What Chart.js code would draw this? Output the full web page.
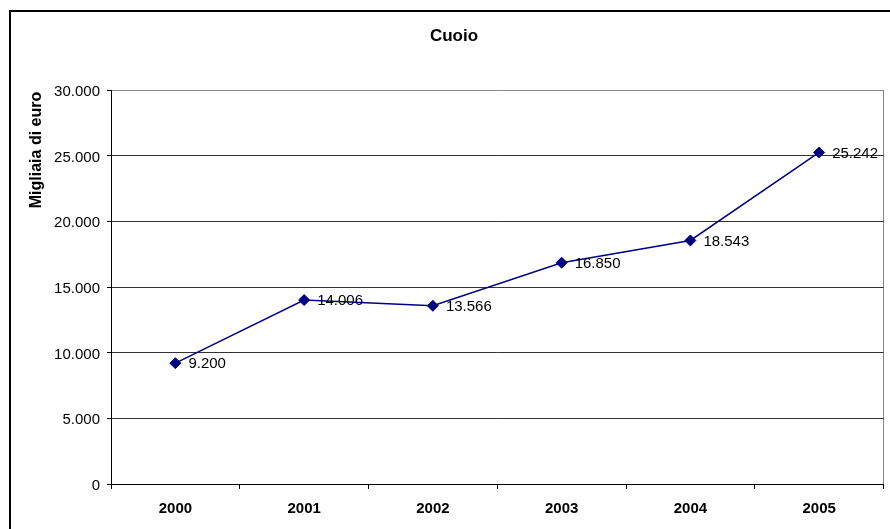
<!DOCTYPE html>
<html>
<head>
<meta charset="utf-8">
<script src="https://cdn.jsdelivr.net/npm/chart.js@4.4.1/dist/chart.umd.min.js"></script>
<style>
  html, body { margin: 0; padding: 0; background: #fff; overflow: hidden; }
  #wrap { width: 890px; height: 529px; }
</style>
</head>
<body>
<div id="wrap"><canvas id="myChart"></canvas></div>
<script>
const anni = ['2000', '2001', '2002', '2003', '2004', '2005'];
const valori = [9200, 14006, 13566, 16850, 18543, 25242];
const tickY = [0, 5000, 10000, 15000, 20000, 25000, 30000];

const FONT = '"Liberation Sans", Arial, sans-serif';

// 25242 -> "25.242"
function formatIt(v) {
    return String(v).replace(/\B(?=(\d{3})+(?!\d))/g, '.');
}

const cornice = {
    id: 'cornice',
    beforeDraw(chart) {
        const c = chart.ctx;
        c.save();
        c.fillStyle = '#fff';
        c.fillRect(0, 0, chart.width, chart.height);
        c.strokeStyle = '#000';
        c.lineWidth = 2;
        c.strokeRect(10, 11, 1000, 1000);
        c.restore();
    },
    afterDraw(chart) {
        const c = chart.ctx;
        c.save();
        c.translate(37, 150);
        c.rotate(-Math.PI / 2);
        c.font = 'bold 16px ' + FONT;
        c.fillStyle = '#000';
        c.textAlign = 'center';
        c.textBaseline = 'middle';
        c.fillText('Migliaia di euro', 0, 0);
        c.restore();
    }
};

const etichette = {
    id: 'etichette',
    afterDatasetsDraw(chart) {
        const c = chart.ctx;
        const meta = chart.getDatasetMeta(0);
        c.save();
        c.font = '15px ' + FONT;
        c.fillStyle = '#000';
        c.textAlign = 'left';
        c.textBaseline = 'middle';
        meta.data.forEach((pt, i) => {
            c.fillText(formatIt(valori[i]), pt.x + 13, pt.y + 1);
        });
        c.restore();
    }
};

new Chart(document.getElementById('myChart'), {
    type: 'line',
    data: {
        labels: anni,
        datasets: [{
            data: valori,
            borderColor: '#000080',
            backgroundColor: '#000080',
            borderWidth: 1.5,
            tension: 0,
            pointStyle: 'rectRot',
            pointRadius: 5.5,
            pointBorderWidth: 1,
            pointBackgroundColor: '#000080',
            pointBorderColor: '#000080'
        }]
    },
    options: {
        responsive: true,
        maintainAspectRatio: false,
        animation: false,
        layout: { padding: { left: 22, right: 4, top: 0, bottom: 0 } },
        plugins: {
            legend: { display: false },
            tooltip: { enabled: false },
            title: {
                display: true,
                text: 'Cuoio',
                color: '#000',
                font: { family: FONT, size: 17, weight: 'bold' },
                padding: { top: 25.8, bottom: 43.8 }
            }
        },
        scales: {
            x: {
                offset: true,
                grid: {
                    offset: true,
                    drawOnChartArea: true,
                    color: c => c.type === 'scale' ? '#888' : 'transparent',
                    tickColor: '#000',
                    tickLength: 5
                },
                border: { color: '#000', width: 1 },
                ticks: {
                    color: '#000',
                    padding: 11,
                    font: { family: FONT, size: 15, weight: 'bold' }
                },
                afterFit(scale) { scale.height = 45; }
            },
            y: {
                min: 0,
                max: 30000,
                afterBuildTicks(scale) {
                    scale.ticks = tickY.map(v => ({ value: v }));
                },
                grid: {
                    color: c => c.tick && c.tick.value === 30000 ? '#888' : '#333',
                    tickColor: '#000',
                    tickLength: 4
                },
                border: { color: '#000', width: 1 },
                ticks: {
                    color: '#000',
                    padding: 7,
                    labelOffset: 2,
                    font: { family: FONT, size: 15 },
                    callback: v => formatIt(v)
                },
                afterFit(scale) { scale.width = 89; }
            }
        }
    },
    plugins: [cornice, etichette]
});
</script>
</body>
</html>
